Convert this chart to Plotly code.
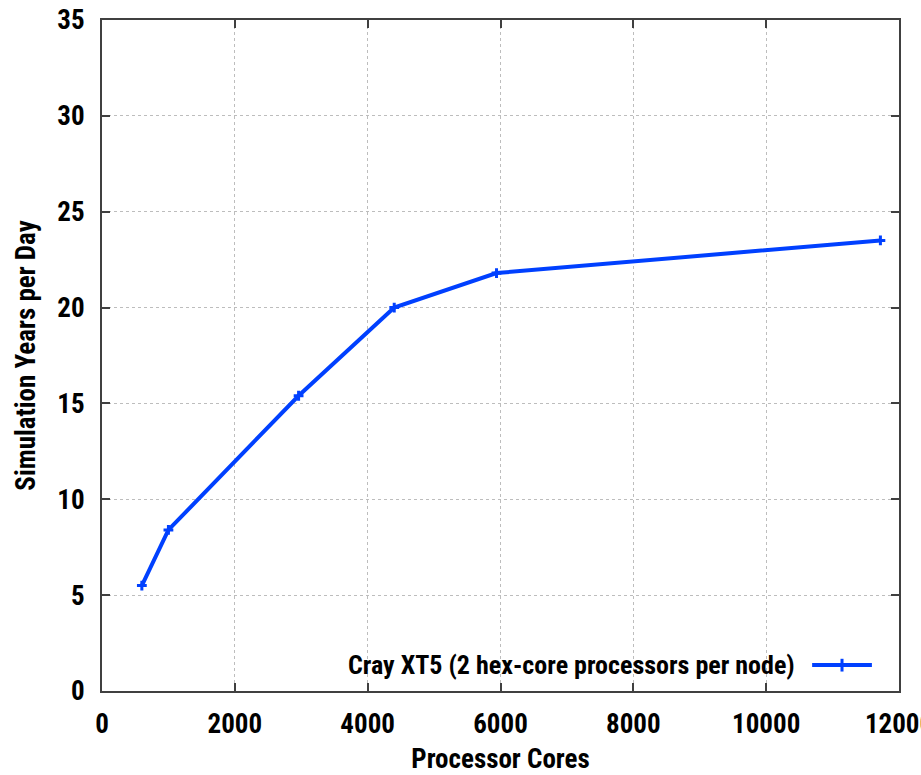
import plotly.graph_objects as go

# Data
cores = [600, 1000, 2960, 4400, 5940, 11720]
years_per_day = [5.5, 8.4, 15.4, 20.0, 21.8, 23.5]
series_name = "Cray XT5 (2 hex-core processors per node)"
x_ticks = [0, 2000, 4000, 6000, 8000, 10000, 12000]
x_tick_labels = ["0", "2000", "4000", "6000", "8000", "10000", "12000"]
y_ticks = [0, 5, 10, 15, 20, 25, 30, 35]

FONT = "Liberation Sans Narrow, Arial Narrow, Roboto Condensed, Liberation Sans, sans-serif"
BLUE = "#0040ff"
AX = "#404040"

fig = go.Figure()
fig.add_trace(go.Scatter(
    x=cores, y=years_per_day, mode="lines+markers", name=series_name,
    line=dict(color=BLUE, width=4),
    marker=dict(symbol="cross-thin", size=7, color=BLUE, line=dict(color=BLUE, width=3)),
    showlegend=False,
))

axis_common = dict(
    showline=True, linecolor=AX, linewidth=2, mirror="ticks",
    ticks="inside", ticklen=8, tickwidth=2, tickcolor=AX,
    showgrid=True, gridcolor="#bdbdbd", griddash="dot", gridwidth=1,
    zeroline=False, automargin=False, ticklabeloverflow="allow",
    tickfont=dict(family=FONT, size=27, color="black", weight="bold"),
)

fig.update_xaxes(range=[0, 12000], tickvals=x_ticks, ticktext=x_tick_labels, ticklabelstandoff=8,
                 title=dict(text="<b>Processor Cores</b>", font=dict(family=FONT, size=27, color="black"), standoff=16),
                 **axis_common)
fig.update_yaxes(range=[0, 35], tickvals=y_ticks, ticklabelstandoff=10,
                 title=dict(text="<b>Simulation Years per Day</b>", font=dict(family=FONT, size=27, color="black"), standoff=14),
                 **axis_common)

# Opaque key box (masks grid) and the key sample on the right of the text
fig.add_shape(type="rect", xref="paper", yref="paper", x0=0.12, x1=0.997, y0=0.004, y1=0.061,
              fillcolor="white", line=dict(width=0), layer="between")
fig.add_shape(type="line", xref="paper", yref="paper", x0=0.891, x1=0.966, y0=0.0387, y1=0.0387,
              line=dict(color=BLUE, width=4))
fig.add_shape(type="line", xref="paper", yref="paper", x0=0.9285, x1=0.9285, y0=0.029, y1=0.048,
              line=dict(color=BLUE, width=3))
fig.add_annotation(text="<b>" + series_name + "</b>", xref="paper", yref="paper",
                   x=0.872, y=0.0387, xanchor="right", yanchor="middle", showarrow=False,
                   font=dict(family=FONT, size=26, color="black"))

fig.update_layout(
    width=921, height=775,
    margin=dict(l=102, r=22, t=20, b=84),
    paper_bgcolor="white", plot_bgcolor="white",
    font=dict(family=FONT, color="black"),
)

fig.write_html("out.html")
